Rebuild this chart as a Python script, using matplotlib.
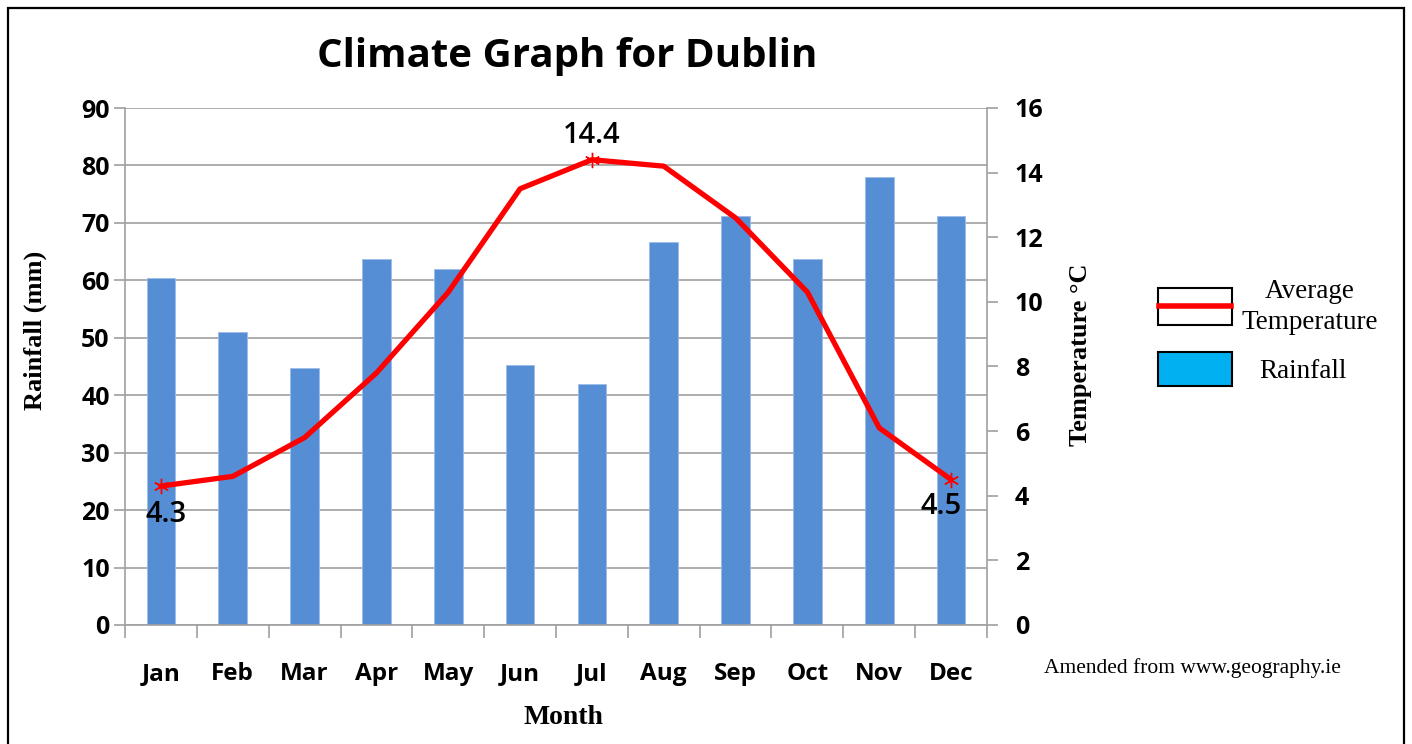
import numpy as np
import matplotlib.pyplot as plt
from matplotlib.patches import Rectangle
from matplotlib.lines import Line2D

months = ['Jan', 'Feb', 'Mar', 'Apr', 'May', 'Jun', 'Jul', 'Aug', 'Sep', 'Oct', 'Nov', 'Dec']
rainfall = [60.4, 51.0, 44.8, 63.7, 62.0, 45.2, 42.0, 66.7, 71.2, 63.7, 78.0, 71.2]
temperature = [4.3, 4.6, 5.8, 7.8, 10.3, 13.5, 14.4, 14.2, 12.6, 10.3, 6.1, 4.5]
rain_ticks = np.arange(0, 91, 10)
temp_ticks = np.arange(0, 17, 2)

W, H = 1412, 744
fig = plt.figure(figsize=(W / 100, H / 100), dpi=100)

# outer frame
fig.add_artist(Rectangle((8 / W, -0.01), 1396 / W, 1.0 - 8 / H + 0.01, transform=fig.transFigure,
                         fill=False, ec='black', lw=1.6))

ax = fig.add_axes([125 / W, (H - 625) / H, 862 / W, 517 / H])
x = np.arange(len(months))
ax.bar(x, rainfall, width=0.4, color='#558ED5', edgecolor='#9dbde8', linewidth=0.6, zorder=2)
ax.set_xlim(-0.5, 11.5)
ax.set_ylim(0, 90)
ax.set_yticks(rain_ticks)
ax.yaxis.grid(True, color='#a0a0a0', lw=1.2, zorder=0)
ax.set_axisbelow(True)
for s in ['top', 'right']:
    ax.spines[s].set_visible(False)
ax.spines['left'].set_color('#a0a0a0')
ax.spines['bottom'].set_color('#a0a0a0')
ax.spines['left'].set_linewidth(1.2)
ax.spines['bottom'].set_linewidth(1.2)
ax.set_xticks(np.arange(-0.5, 12, 1))
ax.set_xticklabels([])
ax.tick_params(axis='x', which='major', length=9, color='#a0a0a0', width=1.2)
ax.set_xticks(x, minor=True)
ax.set_xticklabels(months, minor=True, fontsize=17.5, fontweight='bold', family='Open Sans')
ax.tick_params(axis='x', which='minor', length=0, pad=27)
ax.tick_params(axis='y', length=8, color='#a0a0a0', width=1.2, pad=3)
for t in ax.get_yticklabels():
    t.set_fontsize(18)
    t.set_fontweight('bold')
    t.set_family('Open Sans')

ax2 = ax.twinx()
ax2.plot(x, temperature, color='#ff0000', lw=3.8, zorder=3, solid_joinstyle='round')
ax2.plot(x, temperature, ls='none', marker=(6, 2, 0), markersize=11, mec='#ff0000', mew=1,
         markevery=[0, 6, 11])
ax2.set_ylim(0, 16)
ax2.set_yticks(temp_ticks)
for s in ['top', 'left', 'bottom']:
    ax2.spines[s].set_visible(False)
ax2.spines['right'].set_color('#a0a0a0')
ax2.spines['right'].set_linewidth(1.2)
ax2.tick_params(axis='y', length=8, color='#a0a0a0', width=1.2, pad=12)
for t in ax2.get_yticklabels():
    t.set_fontsize(18)
    t.set_fontweight('bold')
    t.set_family('Open Sans')

lab_font = dict(fontsize=21, family='Open Sans', fontweight='semibold')
ax2.annotate(f'{temperature[6]}', (6, temperature[6]), xytext=(0, 7), textcoords='offset points',
             ha='center', va='bottom', **lab_font)
ax2.annotate(f'{temperature[0]}', (0, temperature[0]), xytext=(-11, -10), textcoords='offset points',
             ha='left', va='top', **lab_font)
ax2.annotate(f'{temperature[11]}', (11, temperature[11]), xytext=(-22, -9), textcoords='offset points',
             ha='left', va='top', **lab_font)

fig.text(567 / W, 1 - 57 / H, 'Climate Graph for Dublin', ha='center', va='center',
         fontsize=29, fontweight='bold', family='Open Sans')
serif = 'Liberation Serif'
fig.text(35 / W, 1 - 330 / H, 'Rainfall (mm)', rotation=90, ha='center', va='center',
         fontsize=19, fontweight='bold', family=serif)
fig.text(1080 / W, 1 - 355 / H, 'Temperature °C', rotation=90, ha='center', va='center',
         fontsize=19, fontweight='bold', family=serif)
fig.text(563 / W, 1 - 717 / H, 'Month', ha='center', va='center',
         fontsize=20, fontweight='bold', family=serif)
fig.text(1192 / W, 1 - 668 / H, 'Amended from www.geography.ie', ha='center', va='center',
         fontsize=15.5, family=serif)

# legend drawn by hand
fig.add_artist(Rectangle((1158 / W, 1 - 325 / H), 74 / W, 37 / H, transform=fig.transFigure,
                         fc='white', ec='black', lw=1.5))
fig.add_artist(Line2D([1159 / W, 1231 / W], [1 - 306 / H, 1 - 306 / H], transform=fig.transFigure,
                      color='#ff0000', lw=4))
fig.add_artist(Rectangle((1158 / W, 1 - 386 / H), 74 / W, 34 / H, transform=fig.transFigure,
                         fc='#00B0F0', ec='black', lw=1.5))
fig.text(1310 / W, 1 - 307 / H, 'Average\nTemperature', ha='center', va='center',
         fontsize=19.5, family=serif, linespacing=1.3)
fig.text(1303 / W, 1 - 371 / H, 'Rainfall', ha='center', va='center', fontsize=19.5, family=serif)

fig.savefig('out.png', dpi=100)
